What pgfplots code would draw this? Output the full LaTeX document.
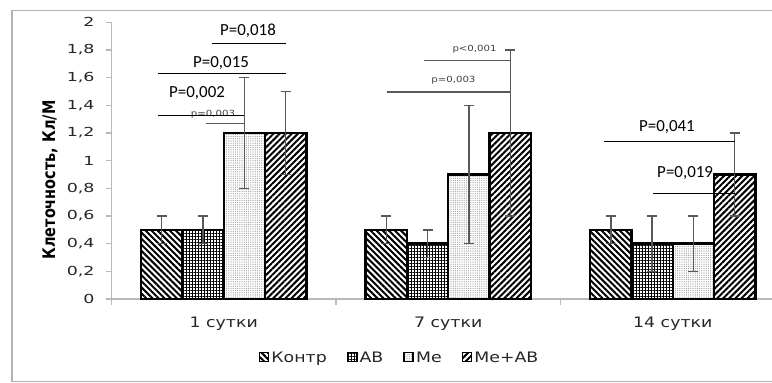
\documentclass[border=0pt]{standalone}
\usepackage{fontspec}
\setmainfont{DejaVu Sans}[FakeStretch=1.2]
\newfontfamily\tickfont{DejaVu Sans}[FakeStretch=1.4]
\newfontfamily\labfont{DejaVu Sans}
\newfontfamily\notefont{Carlito}
\usepackage{graphicx}
\usepackage{pgfplots}
\usepackage{pgfplotstable}
\pgfplotsset{compat=1.18}
\usetikzlibrary{patterns.meta}

% mean and error per group: 1, 7 and 14 days
\pgfplotstableread{
x y err
0 0.5 0.1
1 0.5 0.1
2 0.5 0.1
}\kontr
\pgfplotstableread{
x y err
0 0.5 0.1
1 0.4 0.1
2 0.4 0.2
}\ab
\pgfplotstableread{
x y err
0 1.2 0.4
1 0.9 0.5
2 0.4 0.2
}\me
\pgfplotstableread{
x y err
0 1.2 0.3
1 1.2 0.6
2 0.9 0.3
}\meab

\pgfplotsset{
  barbase/.style={ybar, bar width=0.184, bar shift=0, draw=black, line width=2.4bp,
    error bars/y dir=both, error bars/y explicit,
    error bars/error bar style={draw=gray!70!black, line width=1.4bp},
    error bars/error mark options={draw=gray!70!black, line width=1.4bp, mark size=5bp, rotate=90}},
}
\newcommand{\notestyle}{\notefont\fontsize{17}{19}\selectfont}
\newcommand{\smallnote}{\fontsize{8.5}{10}\selectfont}

\begin{document}
\begin{tikzpicture}
\begin{axis}[
  scale only axis, width=660.5bp, height=276.7bp,
  xmin=-0.5, xmax=2.442, ymin=0, ymax=2,
  axis x line*=bottom, axis y line*=left,
  axis line style={draw=gray!55, line width=1.3bp},
  tick align=outside, major tick length=5.5bp,
  tick style={draw=gray!55, line width=1.2bp},
  ytick={0,0.2,0.4,0.6,0.8,1,1.2,1.4,1.6,1.8,2},
  yticklabels={0,{0,2},{0,4},{0,6},{0,8},1,{1,2},{1,4},{1,6},{1,8},2},
  yticklabel style={font=\tickfont\fontsize{12.5}{14}\selectfont, text=black!85, xshift=-8bp},
  xtick={-0.5,0.5,1.5}, xticklabels={},
  extra x ticks={0,1,2},
  extra x tick labels={1 сутки,7 сутки,14 сутки},
  extra x tick style={major tick length=0pt,
    xticklabel style={font=\fontsize{14.5}{16}\selectfont, text=black!85, yshift=-14bp}},
  ylabel={\scalebox{1}[1.2]{\labfont\bfseries\fontsize{14.5}{16}\selectfont Клеточность, Кл/М}},
  ylabel style={at={(axis description cs:-0.0931,0.43)}, anchor=center},
  legend columns=4,
  legend style={at={(axis description cs:0.436,-0.212)}, anchor=center, draw=none,
    font=\fontsize{14.5}{16}\selectfont, text=black!85,
    /tikz/every even column/.append style={column sep=18bp},
    /tikz/every odd column/.append style={column sep=0bp}},
  legend image code/.code={\draw[#1, line width=1.8bp] (0bp,-3.8bp) rectangle (9bp,5.2bp);},
  clip=false,
]
\addplot[barbase,
  pattern={Lines[angle=-45, distance=4.3bp, line width=2bp]}]
  table[x expr=\thisrow{x}-0.276, y=y, y error=err]{\kontr};
\addplot[barbase,
  pattern={Hatch[angle=0, distance=3bp, line width=0.8bp]}]
  table[x expr=\thisrow{x}-0.092, y=y, y error=err]{\ab};
\addplot[barbase,
  pattern={Dots[distance=2.2bp, radius=0.6bp]}, pattern color=gray!80]
  table[x expr=\thisrow{x}+0.092, y=y, y error=err]{\me};
\addplot[barbase,
  pattern={Lines[angle=45, distance=4.3bp, line width=2bp]}]
  table[x expr=\thisrow{x}+0.276, y=y, y error=err]{\meab};
\legend{Контр,АВ,Ме,Ме+АВ}

% significance brackets, 1 day
\node[font=\notestyle] at (axis cs:0.108,1.94) {P=0,018};
\draw[line width=1bp] (axis cs:-0.052,1.85) -- (axis cs:0.276,1.85);
\node[font=\notestyle] at (axis cs:-0.012,1.706) {P=0,015};
\draw[line width=1bp] (axis cs:-0.293,1.633) -- (axis cs:0.276,1.633);
\node[font=\notestyle] at (axis cs:-0.119,1.489) {P=0,002};
\node[font=\smallnote, text=black!75] at (axis cs:-0.048,1.333) {p=0,003};
\draw[line width=1bp] (axis cs:-0.293,1.328) -- (axis cs:0.092,1.328);
\draw[line width=1bp, gray!70!black] (axis cs:-0.079,1.265) -- (axis cs:0.092,1.265);
% 7 days
\node[font=\smallnote, text=black!75] at (axis cs:1.117,1.807) {p<0,001};
\draw[line width=1.1bp, gray!70!black] (axis cs:0.892,1.727) -- (axis cs:1.276,1.727);
\node[font=\smallnote, text=black!75] at (axis cs:1.023,1.583) {p=0,003};
\draw[line width=1.1bp, gray!70!black] (axis cs:0.727,1.496) -- (axis cs:1.276,1.496);
% 14 days
\node[font=\notestyle] at (axis cs:1.974,1.243) {P=0,041};
\draw[line width=1bp] (axis cs:1.694,1.142) -- (axis cs:2.276,1.142);
\node[font=\notestyle] at (axis cs:2.055,0.911) {P=0,019};
\draw[line width=1bp] (axis cs:1.912,0.766) -- (axis cs:2.276,0.766);
\end{axis}
% outer chart frame
\draw[gray!60, line width=1.6bp] (665bp,288.5bp) -- (-99.5bp,288.5bp) -- (-99.5bp,-82.5bp) -- (665bp,-82.5bp);
\pgfresetboundingbox
\path[use as bounding box] (-111.5bp,-84bp) rectangle (660.5bp,299bp);
\end{tikzpicture}
\end{document}
